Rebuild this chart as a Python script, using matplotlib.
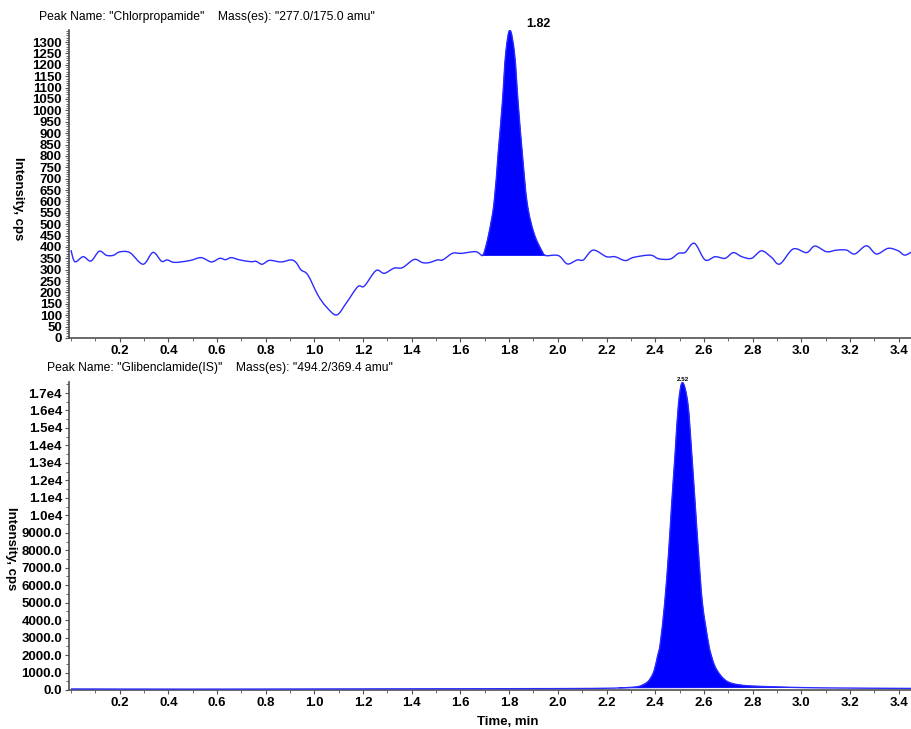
import numpy as np
import matplotlib
matplotlib.use("Agg")
import matplotlib.pyplot as plt
from matplotlib.path import Path
from matplotlib.patches import PathPatch
from matplotlib.ticker import MultipleLocator, FixedLocator, FuncFormatter

plt.rcParams['font.family'] = ['Liberation Sans', 'DejaVu Sans']

# ---------------- data ----------------
top_title = 'Peak Name: "Chlorpropamide"    Mass(es): "277.0/175.0 amu"'
bot_title = 'Peak Name: "Glibenclamide(IS)"    Mass(es): "494.2/369.4 amu"'

top_time = [0.0, 0.016, 0.05, 0.082, 0.116, 0.146, 0.174, 0.2, 0.242, 0.296, 0.337, 0.372,
            0.395, 0.426, 0.488, 0.535, 0.577, 0.611, 0.635, 0.658, 0.693, 0.74, 0.76, 0.785,
            0.816, 0.863, 0.904, 0.925, 0.945, 0.973, 1.014, 1.048, 1.091, 1.13, 1.178, 1.205,
            1.253, 1.287, 1.328, 1.362, 1.41, 1.444, 1.471, 1.506, 1.527, 1.567, 1.594, 1.608,
            1.663, 1.69, 1.70, 1.717, 1.738, 1.755, 1.772, 1.786, 1.803, 1.822, 1.837, 1.854,
            1.874, 1.902, 1.936, 1.95, 1.99, 2.01, 2.04, 2.08, 2.105, 2.145, 2.2, 2.235, 2.277,
            2.311, 2.38, 2.414, 2.462, 2.496, 2.523, 2.561, 2.605, 2.646, 2.687, 2.721, 2.756,
            2.796, 2.837, 2.878, 2.912, 2.967, 3.022, 3.056, 3.104, 3.145, 3.186, 3.22, 3.268,
            3.309, 3.357, 3.398, 3.425, 3.455]
top_int = [386, 335, 357, 338, 381, 363, 363, 378, 375, 324, 376, 337,
           343, 332, 340, 353, 334, 350, 344, 353, 343, 335, 337, 324,
           341, 334, 343, 331, 299, 277, 189, 138, 101, 152, 225, 228,
           296, 284, 307, 309, 345, 331, 331, 343, 343, 372, 372, 372,
           379, 362, 385, 460, 592, 811, 1031, 1250, 1352, 1250, 1031, 811,
           592, 460, 379, 362, 364, 357, 325, 343, 343, 386, 357, 357, 340,
           354, 364, 348, 347, 372, 376, 416, 343, 357, 350, 375, 357,
           350, 383, 354, 325, 391, 375, 404, 379, 386, 386, 369, 405,
           369, 394, 383, 364, 379]
top_peak_rt = "1.82"
top_peak = (1.69, 1.95)

bot_time = [0.0, 0.5, 1.0, 1.5, 2.0, 2.2, 2.25, 2.3, 2.332, 2.355, 2.373, 2.39, 2.4, 2.41,
            2.421, 2.439, 2.455, 2.468, 2.482, 2.496, 2.512, 2.534, 2.55, 2.564, 2.578, 2.594,
            2.619, 2.632, 2.646, 2.665, 2.687, 2.71, 2.742, 2.78, 2.824, 2.906, 3.0, 3.1, 3.2,
            3.3, 3.455]
bot_int = [60, 50, 60, 70, 80, 100, 120, 150, 200, 330, 520, 900, 1335, 1950,
           2670, 4960, 7825, 10690, 13550, 16410, 17600, 16410, 13550, 10690, 7825, 4960,
           2670, 1900, 1335, 900, 572, 400, 300, 240, 210, 170, 140, 120, 110,
           100, 90]
bot_peak_rt = "2.52"
bot_peak = (2.25, 3.0)

top_yticks = list(range(0, 1301, 50))
bot_yticks = list(range(0, 17001, 1000))
xticks = [0.2, 0.4, 0.6, 0.8, 1.0, 1.2, 1.4, 1.6, 1.8, 2.0, 2.2, 2.4, 2.6, 2.8, 3.0, 3.2, 3.4]

# ---------------- helpers ----------------
def smooth_verts(x, y):
    """Catmull-Rom -> cubic Bezier control points through the data points."""
    x = np.asarray(x, float); y = np.asarray(y, float)
    n = len(x)
    verts = [(x[0], y[0])]
    codes = [Path.MOVETO]
    for i in range(n - 1):
        x0, y0 = (x[i - 1], y[i - 1]) if i > 0 else (x[i], y[i])
        x1, y1 = x[i], y[i]
        x2, y2 = x[i + 1], y[i + 1]
        x3, y3 = (x[i + 2], y[i + 2]) if i + 2 < n else (x2, y2)
        c1 = (x1 + (x2 - x0) / 6.0, y1 + (y2 - y0) / 6.0)
        c2 = (x2 - (x3 - x1) / 6.0, y2 - (y3 - y1) / 6.0)
        verts += [c1, c2, (x2, y2)]
        codes += [Path.CURVE4] * 3
    return verts, codes

def draw_trace(ax, t, v, peak, color_line, color_fill):
    t = np.asarray(t, float); v = np.asarray(v, float)
    verts, codes = smooth_verts(t, v)
    ax.add_patch(PathPatch(Path(verts, codes), fill=False, edgecolor=color_line,
                           lw=1.0, zorder=3))
    m = (t >= peak[0]) & (t <= peak[1])
    pv, pc = smooth_verts(t[m], v[m])
    pv = pv + [(t[m][0], v[m][0]), (t[m][0], v[m][0])]
    pc = pc + [Path.LINETO, Path.CLOSEPOLY]
    ax.add_patch(PathPatch(Path(pv, pc), facecolor=color_fill, edgecolor=color_fill,
                           lw=0.5, zorder=2))
    ax.plot(t, v, alpha=0)

def style_axes(ax):
    for s in ['top', 'right']:
        ax.spines[s].set_visible(False)
    for s in ['left', 'bottom']:
        ax.spines[s].set_color('#505050')
        ax.spines[s].set_linewidth(1.2)
    ax.xaxis.set_major_locator(FixedLocator(xticks))
    ax.xaxis.set_minor_locator(MultipleLocator(0.1))
    ax.xaxis.set_major_formatter(FuncFormatter(lambda v, p: f"{v:.1f}"))
    ax.tick_params(axis='both', which='major', length=3, width=0.8, color='#505050',
                   labelsize=9.5, pad=2)
    ax.tick_params(axis='both', which='minor', length=2, width=0.6, color='#505050')
    for lab in ax.get_xticklabels() + ax.get_yticklabels():
        lab.set_fontweight('bold')
    ax.set_xlim(-0.008, 3.455)

# ---------------- figure ----------------
fig = plt.figure(figsize=(9.12, 7.29), dpi=100)
ax1 = fig.add_axes([0.0757, 0.5364, 0.9243, 0.4224])
ax2 = fig.add_axes([0.0757, 0.0535, 0.9243, 0.4225])

blue_line = '#2b2bff'
blue_fill = '#0000ff'

# top panel
draw_trace(ax1, top_time, top_int, top_peak, blue_line, blue_fill)
ax1.set_ylim(0, 1353)
ax1.yaxis.set_major_locator(FixedLocator(top_yticks))
ax1.yaxis.set_minor_locator(MultipleLocator(10))
ax1.yaxis.set_major_formatter(FuncFormatter(lambda v, p: f"{v:.0f}"))
style_axes(ax1)
i1 = int(np.argmax(top_int))
ax1.annotate(top_peak_rt, xy=(top_time[i1], top_int[i1]), xytext=(11.5, 4.5),
             textcoords='offset points', fontsize=9, fontweight='bold', ha='left', va='center',
             annotation_clip=False)
fig.text(0.043, 0.977, top_title, fontsize=8.7, ha='left', va='center')
fig.text(0.02, 0.728, 'Intensity, cps', rotation=270, fontsize=9.5, fontweight='bold',
         ha='center', va='center')

# bottom panel
draw_trace(ax2, bot_time, bot_int, bot_peak, blue_line, blue_fill)
ax2.set_ylim(0, 17630)
ax2.yaxis.set_major_locator(FixedLocator(bot_yticks))
ax2.yaxis.set_minor_locator(MultipleLocator(500))
ax2.yaxis.set_major_formatter(FuncFormatter(
    lambda v, p: f"{v:.1f}" if v < 10000 else f"{v/1e4:.1f}e4"))
style_axes(ax2)
i2 = int(np.argmax(bot_int))
ax2.annotate(bot_peak_rt, xy=(bot_time[i2], bot_int[i2]), xytext=(0, 0.5),
             textcoords='offset points', fontsize=4.5, fontweight='bold', ha='center',
             va='bottom', annotation_clip=False)
fig.text(0.052, 0.495, bot_title, fontsize=8.7, ha='left', va='center')
fig.text(0.012, 0.248, 'Intensity, cps', rotation=270, fontsize=9.5, fontweight='bold',
         ha='center', va='center')
fig.text(0.557, 0.0096, 'Time, min', fontsize=9.5, fontweight='bold', ha='center', va='center')

fig.savefig('out.png', dpi=100)
